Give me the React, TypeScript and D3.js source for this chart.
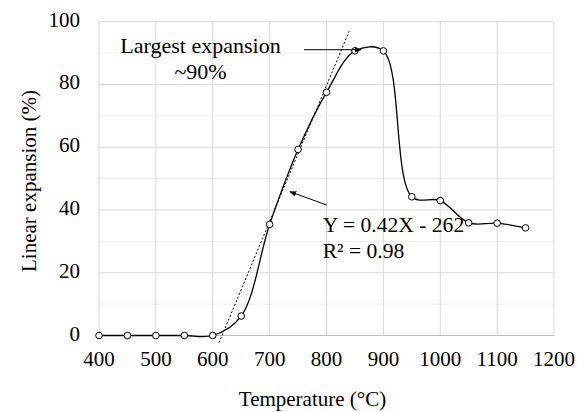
import * as d3 from 'd3'

// measured data points (temperature, linear expansion %)
const temps = [400, 450, 500, 550, 600, 650, 700, 750, 800, 850, 900, 950, 1000, 1050, 1100, 1150]
const expansion = [0, 0, 0, 0, 0, 6.2, 35.4, 59.3, 77.5, 90.7, 90.7, 44.2, 43.0, 35.9, 35.8, 34.3]

// dotted linear fit, as drawn
const trendX = [611, 840]
const trendY = [-2.3, 97]

const xTicks = [400, 500, 600, 700, 800, 900, 1000, 1100, 1200]
const yTicks = [0, 20, 40, 60, 80, 100]
const yMinor = [10, 30, 50, 70, 90]

const W = 584
const H = 412
const font = "'Liberation Serif', 'Times New Roman', serif"

export default function App() {
  const x = d3.scaleLinear().domain([400, 1200]).range([99, 554])
  const y = d3.scaleLinear().domain([0, 100]).range([335.5, 21.7])

  const pts: [number, number][] = temps.map((t, i) => [t, expansion[i]])
  const line = d3
    .line<[number, number]>()
    .x((d) => x(d[0]))
    .y((d) => y(d[1]))
    .curve(d3.curveCatmullRom.alpha(0.5))

  const trend = d3
    .line<number>()
    .x((d) => x(trendX[d]))
    .y((d) => y(trendY[d]))

  const ts = { fontFamily: font }

  return (
    <svg
      width={W}
      height={H}
      style={{ position: 'absolute', left: 0, top: 0, background: '#fff' }}
    >
      <defs>
        <marker id="arr" viewBox="0 0 10 10" refX="9" refY="5" markerWidth="7" markerHeight="7" orient="auto">
          <path d="M0,1 L10,5 L0,9 z" fill="#000" />
        </marker>
      </defs>

      {/* minor grid */}
      {yMinor.map((v) => (
        <line key={'m' + v} x1={x(400)} x2={x(1200)} y1={y(v)} y2={y(v)} stroke="#eeeeee" strokeWidth={1} />
      ))}
      {/* major grid */}
      {yTicks.map((v) => (
        <line key={'y' + v} x1={x(400)} x2={x(1200)} y1={y(v)} y2={y(v)} stroke="#d9d9d9" strokeWidth={1} />
      ))}
      {xTicks.map((v) => (
        <line key={'x' + v} x1={x(v)} x2={x(v)} y1={y(0)} y2={y(100)} stroke="#d9d9d9" strokeWidth={1} />
      ))}
      <line x1={x(400)} x2={x(1200)} y1={y(0)} y2={y(0)} stroke="#bfbfbf" strokeWidth={1} />

      {/* tick labels */}
      {yTicks.map((v) => (
        <text key={'yt' + v} x={80} y={y(v) + 5} textAnchor="end" fontSize={21} style={ts}>
          {v}
        </text>
      ))}
      {xTicks.map((v) => (
        <text key={'xt' + v} x={x(v)} y={365.5} textAnchor="middle" fontSize={21} style={ts}>
          {v}
        </text>
      ))}

      {/* axis titles */}
      <text x={312.5} y={405.5} textAnchor="middle" fontSize={21} style={ts}>
        Temperature (°C)
      </text>
      <text transform="translate(36,181) rotate(-90)" textAnchor="middle" fontSize={21} style={ts}>
        Linear expansion (%)
      </text>

      {/* trend line */}
      <path d={trend([0, 1]) || ''} fill="none" stroke="#000" strokeWidth={1} strokeDasharray="2,2" />

      {/* data curve */}
      <path d={line(pts) || ''} fill="none" stroke="#000" strokeWidth={1.3} />
      {pts.map((d, i) => (
        <circle key={i} cx={x(d[0])} cy={y(d[1])} r={3.3} fill="#fff" stroke="#000" strokeWidth={1} />
      ))}

      {/* annotations */}
      <text x={200.5} y={53} textAnchor="middle" fontSize={22} style={ts}>
        Largest expansion
      </text>
      <text x={200.5} y={79} textAnchor="middle" fontSize={22} style={ts}>
        ~90%
      </text>
      <line x1={304} y1={49.7} x2={361} y2={49.7} stroke="#000" strokeWidth={1} markerEnd="url(#arr)" />

      <line x1={326.7} y1={205} x2={290} y2={191.7} stroke="#000" strokeWidth={1} markerEnd="url(#arr)" />
      <text x={322.7} y={231.7} fontSize={21.6} style={ts}>
        Y = 0.42X - 262
      </text>
      <text x={322.7} y={257.7} fontSize={21.6} style={ts}>
        R² = 0.98
      </text>
    </svg>
  )
}
